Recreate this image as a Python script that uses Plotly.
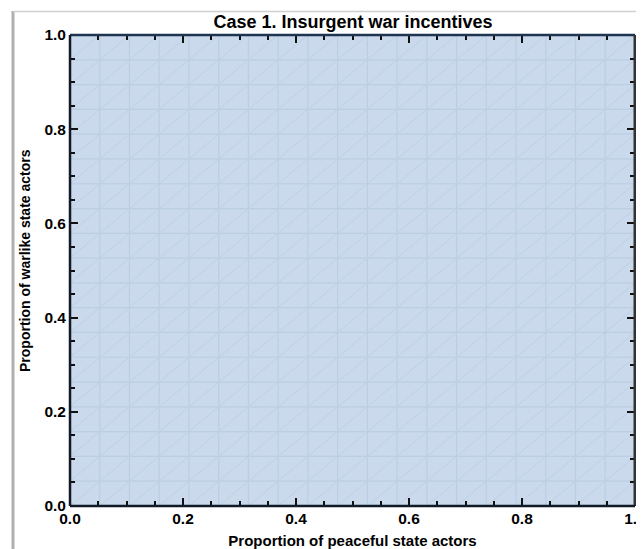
import plotly.graph_objects as go

# ---- data ----
title_text = "Case 1. Insurgent war incentives"
x_title = "Proportion of peaceful state actors"
y_title = "Proportion of warlike state actors"
tick_vals = [0.0, 0.2, 0.4, 0.6, 0.8, 1.0]
tick_text = ["0.0", "0.2", "0.4", "0.6", "0.8", "1.0"]
region_x = [0.0, 1.0, 1.0, 0.0, 0.0]   # full-square region (insurgent war everywhere)
region_y = [0.0, 0.0, 1.0, 1.0, 0.0]
mesh_divisions = 19

# ---- geometry (page body has an 8px margin) ----
OFF = 8
W, H = 644 - OFF, 549 - OFF
L, R, T, B = 70 - OFF, 635 - OFF, 35 - OFF, 506 - OFF
pw, ph = R - L, B - T


def px(x):  # screen pixel -> paper
    return (x - OFF - L) / pw


def py(y):
    return (B - (y - OFF)) / ph


fig = go.Figure()

fig.add_trace(go.Scatter(x=region_x, y=region_y, mode="lines", fill="toself",
                         fillcolor="#cad9eb", line=dict(width=0),
                         hoverinfo="skip", showlegend=False))

# mesh lines (vertical, horizontal, diagonal triangulation)
steps = [k / mesh_divisions for k in range(mesh_divisions + 1)]
gx, gy = [], []
for s in steps[1:-1]:
    gx += [s, s, None]
    gy += [0, 1, None]
    gx += [0, 1, None]
    gy += [s, s, None]
fig.add_trace(go.Scatter(x=gx, y=gy, mode="lines",
                         line=dict(color="#bccee4", width=1.2),
                         hoverinfo="skip", showlegend=False))
dx, dy = [], []
for k in range(-mesh_divisions + 1, mesh_divisions):
    o = k / mesh_divisions
    x0, y0 = max(0.0, o), max(0.0, -o)
    x1, y1 = min(1.0, 1 + o), min(1.0, 1 - o)
    dx += [x0, x1, None]
    dy += [y0, y1, None]
fig.add_trace(go.Scatter(x=dx, y=dy, mode="lines",
                         line=dict(color="#bfd0e5", width=1),
                         hoverinfo="skip", showlegend=False))

font = "Liberation Sans, Arial, sans-serif"
axis_common = dict(range=[0, 1], tickvals=tick_vals, ticktext=tick_text,
                   ticks="inside", ticklen=8, tickwidth=1.5, tickcolor="#111",
                   showgrid=False, zeroline=False, showline=False,
                   mirror="ticks", automargin=False, ticklabeloverflow="allow",
                   minor=dict(dtick=0.05, ticks="inside", ticklen=5,
                              tickwidth=1.5, tickcolor="#111", showgrid=False),
                   tickfont=dict(family=font, size=15.5, color="#000", weight="bold"))

fig.update_layout(
    width=W, height=H,
    margin=dict(l=L, r=W - R, t=T, b=H - B, autoexpand=False),
    paper_bgcolor="white", plot_bgcolor="white",
    title=dict(text=title_text, x=px(353), xref="paper", xanchor="center",
               y=1 - (22 - OFF) / H, yanchor="middle", automargin=False,
               font=dict(family=font, size=18, color="#000", weight="bold")),
    xaxis=dict(axis_common, ticklabelstandoff=1,
               title=dict(text=x_title, standoff=10,
                          font=dict(family=font, size=15, color="#000", weight="bold"))),
    yaxis=dict(axis_common, ticklabelstandoff=3),
    showlegend=False,
    annotations=[dict(text=y_title, xref="paper", yref="paper",
                      x=px(25), y=py(261), xanchor="center", yanchor="middle",
                      textangle=-90, showarrow=False,
                      font=dict(family=font, size=14, color="#000", weight="bold"))],
)

shapes = [
    # outer light frame
    dict(type="line", xref="paper", yref="paper", x0=px(13), x1=px(13), y0=py(11), y1=py(560),
         line=dict(color="#b0b0b0", width=3)),
    dict(type="line", xref="paper", yref="paper", x0=px(13), x1=px(650), y0=py(11.5), y1=py(11.5),
         line=dict(color="#d0d0d0", width=1.5)),
    # plot frame
    dict(type="line", xref="paper", yref="paper", x0=0, x1=1, y0=1, y1=1,
         line=dict(color="#1e3552", width=2.5)),
    dict(type="line", xref="paper", yref="paper", x0=1, x1=1, y0=0, y1=1,
         line=dict(color="#333333", width=3)),
    dict(type="line", xref="paper", yref="paper", x0=0, x1=0, y0=0, y1=1,
         line=dict(color="#111a26", width=2.5)),
    dict(type="line", xref="paper", yref="paper", x0=0, x1=1, y0=0, y1=0,
         line=dict(color="#111a26", width=2.5)),
]
fig.update_layout(shapes=shapes)

fig.write_html("out.html")
